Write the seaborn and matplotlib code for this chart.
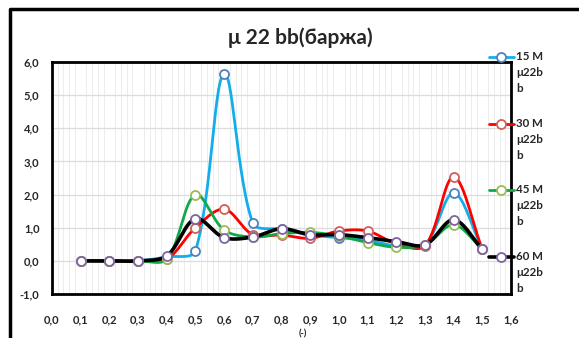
import numpy as np
import pandas as pd
import matplotlib
matplotlib.use("Agg")
import matplotlib.pyplot as plt
from matplotlib.lines import Line2D
from matplotlib.ticker import FuncFormatter, MultipleLocator
import seaborn as sns

# ---- data ----
x_vals = [0.1, 0.2, 0.3, 0.4, 0.5, 0.6, 0.7, 0.8, 0.9, 1.0, 1.1, 1.2, 1.3, 1.4, 1.5]
s15 = [0, 0, 0, 0.12, 0.30, 5.65, 1.14, 0.95, 0.78, 0.70, 0.62, 0.45, 0.48, 2.05, 0.35]
s30 = [0, 0, 0, 0.05, 1.00, 1.56, 0.79, 0.78, 0.68, 0.90, 0.90, 0.52, 0.45, 2.53, 0.35]
s45 = [0, 0, 0, 0.05, 2.00, 0.93, 0.72, 0.82, 0.86, 0.75, 0.55, 0.41, 0.48, 1.09, 0.35]
s60 = [0, 0, 0, 0.15, 1.27, 0.70, 0.72, 0.97, 0.79, 0.79, 0.70, 0.58, 0.48, 1.24, 0.35]
series_names = ["15 M\nμ22b\nb", "30 M\nμ22b\nb", "45 M\nμ22b\nb", "60 M\nμ22b\nb"]
x_ticks = [round(0.1 * i, 1) for i in range(17)]
y_ticks = [-1, 0, 1, 2, 3, 4, 5, 6]
title = "μ 22 bb(баржа)"

line_colors = ["#12AEEA", "#FF0000", "#10A84A", "#000000"]
marker_edges = ["#4F81BD", "#D0605C", "#9BBB59", "#8064A2"]
line_widths = [2.0, 2.0, 2.0, 2.6]

sns.set_theme(style="white")
plt.rcParams["font.family"] = ["Lato", "DejaVu Sans"]
plt.rcParams["font.weight"] = "bold"

W, H = 579, 338
# screen scale (pixels per data unit) used to measure chord lengths for smoothing
PX_X = (511 - 52) / 1.6
PX_Y = (294 - 62) / 7.0


def smooth_curve(xs, ys, n=30):
    """Bezier smoothing through every point; tangents weighted by on-screen chord lengths."""
    pts = np.column_stack([np.asarray(xs, float) * PX_X, np.asarray(ys, float) * PX_Y])
    P = np.vstack([pts[0], pts, pts[-1]])
    t = np.linspace(0, 1, n)[:, None]
    segs = []
    for i in range(1, len(P) - 2):
        p0, p1, p2, p3 = P[i - 1], P[i], P[i + 1], P[i + 2]
        d01 = np.linalg.norm(p1 - p0)
        d12 = np.linalg.norm(p2 - p1)
        d23 = np.linalg.norm(p3 - p2)
        w1 = d12 / (d01 + d12) if d01 + d12 > 0 else 0.5
        w2 = d12 / (d12 + d23) if d12 + d23 > 0 else 0.5
        c1 = p1 + (p2 - p0) * w1 / 3.0
        c2 = p2 - (p3 - p1) * w2 / 3.0
        b = ((1 - t) ** 3) * p1 + 3 * ((1 - t) ** 2) * t * c1 + 3 * (1 - t) * t ** 2 * c2 + t ** 3 * p2
        segs.append(b if i == len(P) - 3 else b[:-1])
    c = np.vstack(segs)
    return c[:, 0] / PX_X, c[:, 1] / PX_Y


fig = plt.figure(figsize=(W / 100, H / 100), dpi=100)
ax = fig.add_axes([52 / W, 1 - 294 / H, (511 - 52) / W, (294 - 62) / H])

for ys, name, lc, me, lw in zip([s15, s30, s45, s60], series_names, line_colors, marker_edges, line_widths):
    sx, sy = smooth_curve(x_vals, ys)
    sns.lineplot(x=sx, y=sy, ax=ax, color=lc, lw=lw, sort=False, estimator=None, zorder=3)
    ax.plot(x_vals, ys, ls="none", marker="o", ms=6.5, mfc="white", mec=me, mew=1.3, zorder=4)

ax.set_xlim(0, 1.6)
ax.set_ylim(-1, 6)
ax.set_xticks(x_ticks)
ax.set_yticks(y_ticks)
comma = FuncFormatter(lambda v, p: f"{v:.1f}".replace(".", ","))
ax.xaxis.set_major_formatter(comma)
ax.yaxis.set_major_formatter(comma)
ax.xaxis.set_minor_locator(MultipleLocator(0.02))
ax.grid(False)
ax.grid(axis="y", which="major", color="#DCDCDC", lw=0.9, zorder=0)
ax.grid(axis="x", which="minor", color="#EDEDED", lw=0.7, zorder=0)
ax.tick_params(axis="both", which="both", length=0)
ax.tick_params(axis="x", pad=15, labelsize=8)
ax.tick_params(axis="y", pad=9, labelsize=8)
for lab in ax.get_xticklabels() + ax.get_yticklabels():
    lab.set_fontweight("bold")
ax.set_xlabel("")
ax.set_ylabel("")
for sp in ax.spines.values():
    sp.set_visible(True)
    sp.set_color("black")
    sp.set_linewidth(2.0)

# title
fig.text(300 / W, 1 - 38 / H, title, ha="center", va="center", fontsize=15, fontweight="bold")

# axis caption at the bottom edge
fig.text(303 / W, 1 - 329 / H, "(-)", ha="center", va="top", fontsize=6.5, fontweight="bold")

# legend down the right side
legend_y = [57, 124, 190, 257]
for ly, name, lc, me, lw in zip(legend_y, series_names, line_colors, marker_edges, line_widths):
    yy = 1 - ly / H
    fig.add_artist(Line2D([489 / W, 514 / W], [yy, yy], color=lc, lw=lw,
                          transform=fig.transFigure))
    fig.add_artist(Line2D([501 / W], [yy], ls="none", marker="o", ms=6.5, mfc="white",
                          mec=me, mew=1.3, transform=fig.transFigure))
    fig.text(516 / W, 1 - (ly - 6) / H, name, ha="left", va="top", fontsize=8.3,
             fontweight="bold", linespacing=1.55)

# outer frame of the chart area
fig.add_artist(Line2D([10 / W, 10 / W, 1.0], [0.0, 1 - 9 / H, 1 - 9 / H], color="black", lw=2.5,
                      transform=fig.transFigure))

fig.savefig("out.png", dpi=100)
